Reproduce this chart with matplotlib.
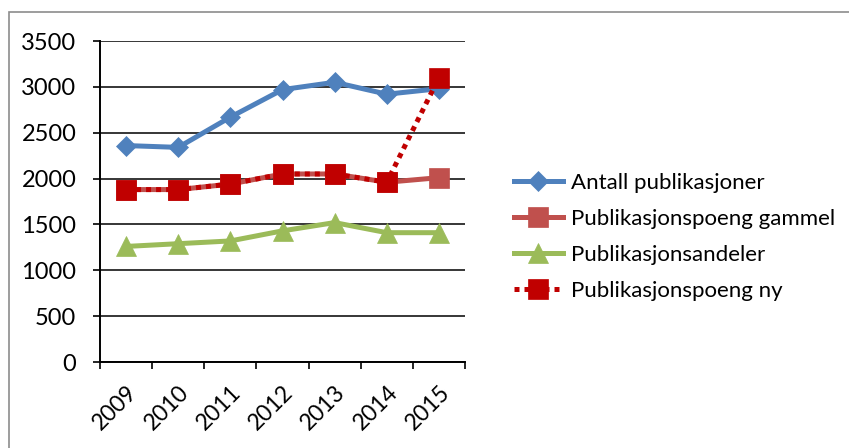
import matplotlib
matplotlib.use("Agg")
import matplotlib.pyplot as plt
from matplotlib.patches import Rectangle

years = ["2009", "2010", "2011", "2012", "2013", "2014", "2015"]
antall = [2360, 2340, 2670, 2970, 3050, 2920, 2980]
poeng_gammel = [1880, 1880, 1940, 2050, 2050, 1960, 2010]
andeler = [1260, 1290, 1320, 1430, 1520, 1410, 1410]
poeng_ny = [1880, 1880, 1940, 2050, 2050, 1960, 3100]
labels = ["Antall publikasjoner", "Publikasjonspoeng gammel",
          "Publikasjonsandeler", "Publikasjonspoeng ny"]
yticks = [0, 500, 1000, 1500, 2000, 2500, 3000, 3500]

plt.rcParams['font.family'] = ['Lato', 'DejaVu Sans']

W, H = 849, 448
fig = plt.figure(figsize=(W / 100, H / 100), dpi=100)
ax = fig.add_axes([100 / W, 1 - 362 / H, (465 - 100) / W, (362 - 41) / H])

x = list(range(len(years)))
ax.plot(x, antall, color="#4F81BD", lw=3.6, marker="D", ms=10.5,
        mec="#4F81BD", mew=0.5, label=labels[0], zorder=3)
ax.plot(x, poeng_gammel, color="#C0504D", lw=3.6, marker="s", ms=14,
        mec="#C0504D", mew=0.5, label=labels[1], zorder=3)
ax.plot(x, andeler, color="#9BBB59", lw=3.6, marker="^", ms=15,
        mec="#9BBB59", mew=0.5, label=labels[2], zorder=3)
ax.plot(x, poeng_ny, color="#C00000", lw=3.6, ls=(0, (1.0, 1.0)),
        dash_capstyle="butt", marker="s", ms=14, mec="#C00000", mew=0.5,
        label=labels[3], zorder=4)

ax.set_xlim(-0.5, len(years) - 0.5)
ax.set_ylim(0, 3500)
ax.set_yticks(yticks)
ax.set_yticklabels([str(v) for v in yticks])
ax.set_xticks([i - 0.5 for i in range(len(years) + 1)], minor=False)
ax.set_xticklabels([""] * (len(years) + 1))
ax.set_xticks(x, minor=True)
ax.set_xticklabels(years, minor=True, rotation=45, ha="right",
                   rotation_mode="anchor", fontsize=16.5)
ax.tick_params(axis="x", which="minor", length=0, pad=14)
ax.tick_params(axis="x", which="major", length=5, width=1.2, color="black",
               direction="out")
ax.tick_params(axis="y", length=5, width=1.2, color="black", direction="out",
               labelsize=17, pad=12)

ax.grid(axis="y", color="black", lw=1.1, zorder=0)
ax.set_axisbelow(True)
for s in ["top", "right"]:
    ax.spines[s].set_visible(False)
for s in ["left", "bottom"]:
    ax.spines[s].set_color("black")
    ax.spines[s].set_linewidth(1.4)

leg = fig.legend(loc="center left", bbox_to_anchor=(505 / W, 1 - 237 / H),
                 frameon=False, fontsize=16, handlelength=2.2,
                 handletextpad=0.35, labelspacing=0.72, numpoints=1,
                 borderaxespad=0)

fig.patches.append(Rectangle((8.5 / W, -0.1), 1.2, 1.1 - 12 / H,
                             transform=fig.transFigure, fill=False,
                             edgecolor="#8c8c8c", lw=1.2))

fig.savefig("out.png", dpi=100)
